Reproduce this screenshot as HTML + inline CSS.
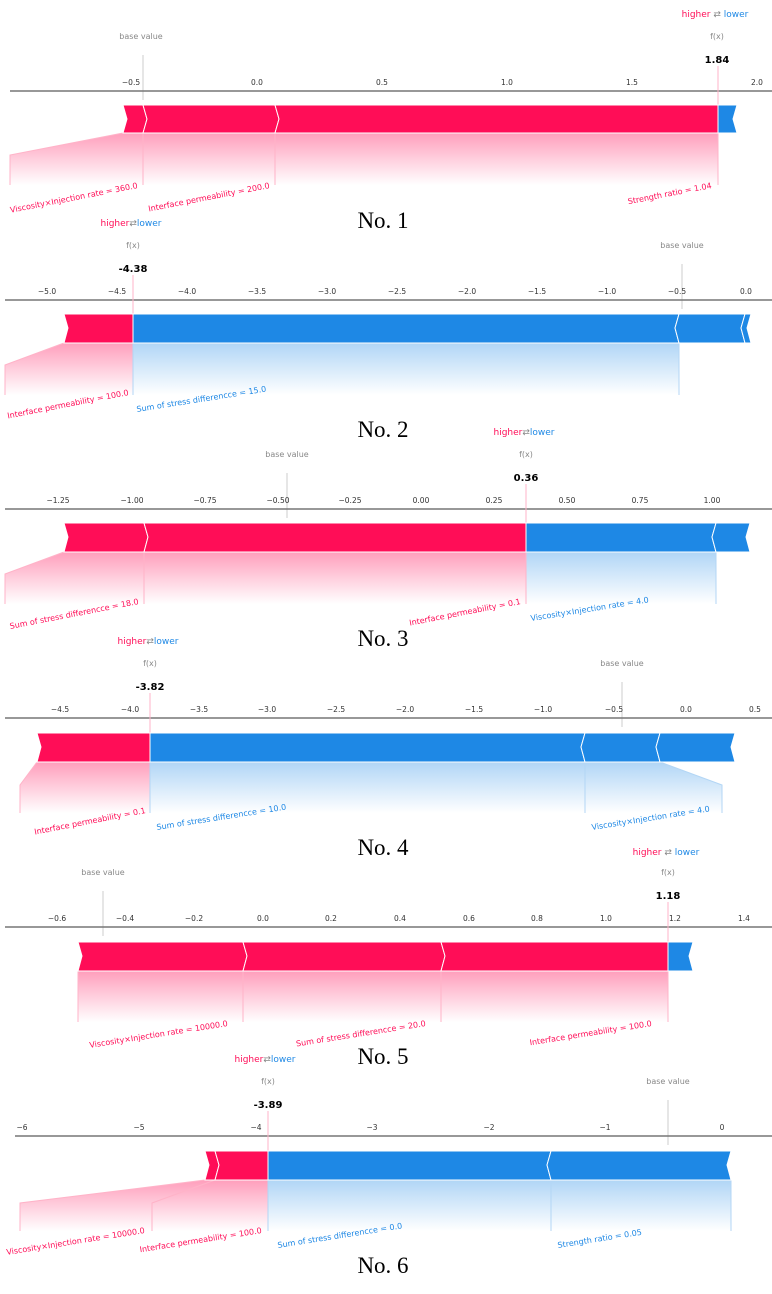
<!DOCTYPE html>
<html><head><meta charset="utf-8"><style>
body{margin:0;background:#fff}
svg{display:block;font-family:"DejaVu Sans","Liberation Sans",sans-serif}
.t{font-size:7.5px;fill:#333;text-anchor:middle}
.g{font-size:8px;fill:#888;text-anchor:middle}
.v{font-size:10px;font-weight:bold;fill:#000;text-anchor:middle}
.r{font-size:8px;fill:#ff0d57;text-anchor:end}
.b{font-size:8px;fill:#1e88e5;text-anchor:start}
.n{font-family:"Liberation Serif",serif;font-size:23px;fill:#000;text-anchor:middle}
.hl{font-size:9px;text-anchor:middle}
.ax{stroke:#777;stroke-width:1.5}
.bl{stroke:#ccc;stroke-width:1}
.rl{stroke:#ffb3c8;stroke-width:1;fill:none}
.bll{stroke:#b3d6f5;stroke-width:1;fill:none}
.R{fill:#ff0d57;stroke:#fff;stroke-width:1}
.B{fill:#1e88e5;stroke:#fff;stroke-width:1}
</style></head><body>
<svg width="772" height="1294" viewBox="0 0 772 1294" xmlns="http://www.w3.org/2000/svg">
<defs>
<linearGradient id="gr" x1="0" y1="0" x2="0" y2="1"><stop offset="0" stop-color="#ff0d57" stop-opacity="0.4"/><stop offset="1" stop-color="#ff0d57" stop-opacity="0"/></linearGradient>
<linearGradient id="gb" x1="0" y1="0" x2="0" y2="1"><stop offset="0" stop-color="#1e88e5" stop-opacity="0.35"/><stop offset="1" stop-color="#1e88e5" stop-opacity="0"/></linearGradient>
</defs>

<!-- Panel 1 -->
<g>
<text class="hl" x="715" y="17"><tspan fill="#ff0d57">higher </tspan><tspan fill="#888">⇄</tspan><tspan fill="#1e88e5"> lower</tspan></text>
<text class="g" x="141" y="39">base value</text>
<text class="g" x="717" y="39">f(x)</text>
<text class="v" x="717" y="63">1.84</text>
<line class="bl" x1="143" y1="55" x2="143" y2="100"/>
<g class="t"><text x="131" y="85">−0.5</text><text x="257" y="85">0.0</text><text x="382" y="85">0.5</text><text x="507" y="85">1.0</text><text x="632" y="85">1.5</text><text x="757" y="85">2.0</text></g>
<line class="ax" x1="10" y1="91" x2="772" y2="91"/>
<polygon fill="url(#gr)" points="123,133 10,155 10,185 718,185 718,133"/>
<polyline class="rl" points="123,133 10,155 10,185"/>
<line class="rl" x1="143" y1="133" x2="143" y2="185"/><line class="rl" x1="275" y1="133" x2="275" y2="185"/><line class="rl" x1="718" y1="66" x2="718" y2="185"/>
<polygon class="R" points="123,105 143,105 147,119 143,133 123,133 127,119"/>
<polygon class="R" points="143,105 275,105 279,119 275,133 143,133 147,119"/>
<polygon class="R" points="275,105 718,105 718,133 275,133 279,119"/>
<polygon class="B" points="718,105 737,105 733,119 737,133 718,133"/>
<text class="r" transform="translate(138,188) rotate(-11)">Viscosity×Injection rate = 360.0</text>
<text class="r" transform="translate(270,188) rotate(-11)">Interface permeability = 200.0</text>
<text class="r" transform="translate(712,188) rotate(-11)">Strength ratio = 1.04</text>
<text class="n" x="383" y="228">No. 1</text>
</g>

<!-- Panel 2 -->
<g transform="translate(0,209)">
<text class="hl" x="131" y="17"><tspan fill="#ff0d57">higher</tspan><tspan fill="#888">⇄</tspan><tspan fill="#1e88e5">lower</tspan></text>
<text class="g" x="682" y="39">base value</text>
<text class="g" x="133" y="39">f(x)</text>
<text class="v" x="133" y="63">-4.38</text>
<line class="bl" x1="682" y1="55" x2="682" y2="100"/>
<g class="t"><text x="47" y="85">−5.0</text><text x="117" y="85">−4.5</text><text x="187" y="85">−4.0</text><text x="257" y="85">−3.5</text><text x="327" y="85">−3.0</text><text x="397" y="85">−2.5</text><text x="467" y="85">−2.0</text><text x="537" y="85">−1.5</text><text x="607" y="85">−1.0</text><text x="677" y="85">−0.5</text><text x="746" y="85">0.0</text></g>
<line class="ax" x1="5" y1="91" x2="772" y2="91"/>
<polygon fill="url(#gr)" points="64,134 5,156 5,186 133,186 133,134"/>
<polygon fill="url(#gb)" points="133,134 133,186 679,186 679,134"/>
<polyline class="rl" points="64,134 5,156 5,186"/>
<line class="rl" x1="133" y1="66" x2="133" y2="134"/>
<line class="bll" x1="133" y1="134" x2="133" y2="186"/><line class="bll" x1="679" y1="134" x2="679" y2="186"/>
<polygon class="R" points="64,105 133,105 133,134 64,134 68,119"/>
<polygon class="B" points="133,105 679,105 675,119 679,134 133,134"/>
<polygon class="B" points="679,105 745,105 741,119 745,134 679,134 675,119"/>
<polygon class="B" points="745,105 751,105 747,119 751,134 745,134 741,119"/>
<text class="r" transform="translate(129,186) rotate(-11)">Interface permeability = 100.0</text>
<text class="b" transform="translate(137,203) rotate(-9)">Sum of stress differencce = 15.0</text>
<text class="n" x="383" y="228">No. 2</text>
</g>

<!-- Panel 3 -->
<g transform="translate(0,418)">
<text class="hl" x="524" y="17"><tspan fill="#ff0d57">higher</tspan><tspan fill="#888">⇄</tspan><tspan fill="#1e88e5">lower</tspan></text>
<text class="g" x="287" y="39">base value</text>
<text class="g" x="526" y="39">f(x)</text>
<text class="v" x="526" y="63">0.36</text>
<line class="bl" x1="287" y1="55" x2="287" y2="100"/>
<g class="t"><text x="58" y="85">−1.25</text><text x="132" y="85">−1.00</text><text x="205" y="85">−0.75</text><text x="278" y="85">−0.50</text><text x="350" y="85">−0.25</text><text x="421" y="85">0.00</text><text x="494" y="85">0.25</text><text x="567" y="85">0.50</text><text x="640" y="85">0.75</text><text x="712" y="85">1.00</text></g>
<line class="ax" x1="5" y1="91" x2="772" y2="91"/>
<polygon fill="url(#gr)" points="64,134 5,156 5,186 526,186 526,134"/>
<polygon fill="url(#gb)" points="526,134 526,186 716,186 716,134"/>
<polyline class="rl" points="64,134 5,156 5,186"/>
<line class="rl" x1="144" y1="134" x2="144" y2="186"/><line class="rl" x1="526" y1="66" x2="526" y2="186"/>
<line class="bll" x1="716" y1="134" x2="716" y2="186"/>
<polygon class="R" points="64,105 144,105 148,119 144,134 64,134 68,119"/>
<polygon class="R" points="144,105 526,105 526,134 144,134 148,119"/>
<polygon class="B" points="526,105 716,105 712,119 716,134 526,134"/>
<polygon class="B" points="716,105 750,105 746,119 750,134 716,134 712,119"/>
<text class="r" transform="translate(139,186) rotate(-11)">Sum of stress differencce = 18.0</text>
<text class="r" transform="translate(521,186) rotate(-11)">Interface permeability = 0.1</text>
<text class="b" transform="translate(531,203) rotate(-9)">Viscosity×Injection rate = 4.0</text>
<text class="n" x="383" y="228">No. 3</text>
</g>

<!-- Panel 4 -->
<g transform="translate(0,627)">
<text class="hl" x="148" y="17"><tspan fill="#ff0d57">higher</tspan><tspan fill="#888">⇄</tspan><tspan fill="#1e88e5">lower</tspan></text>
<text class="g" x="622" y="39">base value</text>
<text class="g" x="150" y="39">f(x)</text>
<text class="v" x="150" y="63">-3.82</text>
<line class="bl" x1="622" y1="55" x2="622" y2="100"/>
<g class="t"><text x="60" y="85">−4.5</text><text x="130" y="85">−4.0</text><text x="199" y="85">−3.5</text><text x="267" y="85">−3.0</text><text x="336" y="85">−2.5</text><text x="405" y="85">−2.0</text><text x="474" y="85">−1.5</text><text x="543" y="85">−1.0</text><text x="614" y="85">−0.5</text><text x="686" y="85">0.0</text><text x="755" y="85">0.5</text></g>
<line class="ax" x1="5" y1="91" x2="772" y2="91"/>
<polygon fill="url(#gr)" points="37,135 20,158 20,186 150,186 150,135"/>
<polygon fill="url(#gb)" points="150,135 150,186 585,186 722,186 722,158 660,135"/>
<polyline class="rl" points="37,135 20,158 20,186"/>
<line class="rl" x1="150" y1="66" x2="150" y2="135"/>
<line class="bll" x1="150" y1="135" x2="150" y2="186"/><line class="bll" x1="585" y1="135" x2="585" y2="186"/>
<polyline class="bll" points="660,135 722,158 722,186"/>
<polygon class="R" points="37,106 150,106 150,135 37,135 41,120"/>
<polygon class="B" points="150,106 585,106 581,120 585,135 150,135"/>
<polygon class="B" points="585,106 660,106 656,120 660,135 585,135 581,120"/>
<polygon class="B" points="660,106 735,106 731,120 735,135 660,135 656,120"/>
<text class="r" transform="translate(146,186) rotate(-11)">Interface permeability = 0.1</text>
<text class="b" transform="translate(157,203) rotate(-9)">Sum of stress differencce = 10.0</text>
<text class="b" transform="translate(592,203) rotate(-9)">Viscosity×Injection rate = 4.0</text>
<text class="n" x="383" y="228">No. 4</text>
</g>

<!-- Panel 5 -->
<g transform="translate(0,836)">
<text class="hl" x="666" y="19"><tspan fill="#ff0d57">higher</tspan><tspan fill="#888">    ⇄    </tspan><tspan fill="#1e88e5">lower</tspan></text>
<text class="g" x="103" y="39">base value</text>
<text class="g" x="668" y="39">f(x)</text>
<text class="v" x="668" y="63">1.18</text>
<line class="bl" x1="103" y1="55" x2="103" y2="100"/>
<g class="t"><text x="57" y="85">−0.6</text><text x="125" y="85">−0.4</text><text x="194" y="85">−0.2</text><text x="263" y="85">0.0</text><text x="331" y="85">0.2</text><text x="400" y="85">0.4</text><text x="469" y="85">0.6</text><text x="537" y="85">0.8</text><text x="606" y="85">1.0</text><text x="675" y="85">1.2</text><text x="744" y="85">1.4</text></g>
<line class="ax" x1="5" y1="91" x2="772" y2="91"/>
<polygon fill="url(#gr)" points="78,135 78,186 668,186 668,135"/>
<line class="rl" x1="78" y1="135" x2="78" y2="186"/><line class="rl" x1="243" y1="135" x2="243" y2="186"/><line class="rl" x1="441" y1="135" x2="441" y2="186"/><line class="rl" x1="668" y1="66" x2="668" y2="186"/>
<polygon class="R" points="78,106 243,106 247,120 243,135 78,135 82,120"/>
<polygon class="R" points="243,106 441,106 445,120 441,135 243,135 247,120"/>
<polygon class="R" points="441,106 668,106 668,135 441,135 445,120"/>
<polygon class="B" points="668,106 693,106 689,120 693,135 668,135"/>
<text class="r" transform="translate(228,190) rotate(-9)">Viscosity×Injection rate = 10000.0</text>
<text class="r" transform="translate(426,190) rotate(-9)">Sum of stress differencce = 20.0</text>
<text class="r" transform="translate(652,190) rotate(-9)">Interface permeability = 100.0</text>
<text class="n" x="383" y="228">No. 5</text>
</g>

<!-- Panel 6 -->
<g transform="translate(0,1045)">
<text class="hl" x="265" y="17"><tspan fill="#ff0d57">higher</tspan><tspan fill="#888">⇄</tspan><tspan fill="#1e88e5">lower</tspan></text>
<text class="g" x="668" y="39">base value</text>
<text class="g" x="268" y="39">f(x)</text>
<text class="v" x="268" y="63">-3.89</text>
<line class="bl" x1="668" y1="55" x2="668" y2="100"/>
<g class="t"><text x="22" y="85">−6</text><text x="139" y="85">−5</text><text x="256" y="85">−4</text><text x="372" y="85">−3</text><text x="489" y="85">−2</text><text x="605" y="85">−1</text><text x="722" y="85">0</text></g>
<line class="ax" x1="15" y1="91" x2="772" y2="91"/>
<polygon fill="url(#gr)" points="205,135 20,158 20,186 268,186 268,135"/>
<polygon fill="url(#gb)" points="268,135 268,186 731,186 731,135"/>
<polyline class="rl" points="205,135 20,158 20,186"/>
<polyline class="rl" points="215,135 152,158 152,186"/>
<line class="rl" x1="268" y1="66" x2="268" y2="135"/>
<line class="bll" x1="268" y1="135" x2="268" y2="186"/><line class="bll" x1="551" y1="135" x2="551" y2="186"/><line class="bll" x1="731" y1="135" x2="731" y2="186"/>
<polygon class="R" points="205,106 215,106 219,120 215,135 205,135 209,120"/>
<polygon class="R" points="215,106 268,106 268,135 215,135 219,120"/>
<polygon class="B" points="268,106 551,106 547,120 551,135 268,135"/>
<polygon class="B" points="551,106 731,106 727,120 731,135 551,135 547,120"/>
<text class="r" transform="translate(145,188) rotate(-9)">Viscosity×Injection rate = 10000.0</text>
<text class="r" transform="translate(262,188) rotate(-9)">Interface permeability = 100.0</text>
<text class="b" transform="translate(278,203) rotate(-9)">Sum of stress differencce = 0.0</text>
<text class="b" transform="translate(558,203) rotate(-9)">Strength ratio = 0.05</text>
<text class="n" x="383" y="228">No. 6</text>
</g>
</svg>
</body></html>
